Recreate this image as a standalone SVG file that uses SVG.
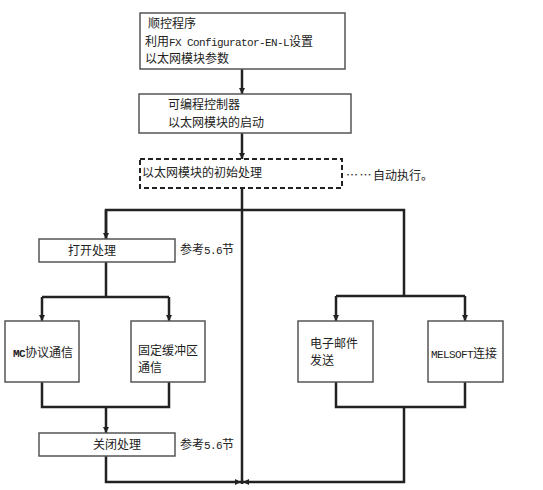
<svg xmlns="http://www.w3.org/2000/svg" width="543" height="490" viewBox="0 0 543 490">
<style>
.box{fill:#fff;stroke:#555;stroke-width:1.5}
.dash{fill:#fff;stroke:#222;stroke-width:2;stroke-dasharray:5 3}
.ln{fill:none;stroke:#222;stroke-width:2.5}
text{font-family:"Noto Sans CJK SC","Noto Sans",sans-serif;font-size:12px;fill:#222}
.m{font-family:"Liberation Mono",monospace;font-size:11px;letter-spacing:-0.6px}
</style>
<defs>
<marker id="ah" markerUnits="userSpaceOnUse" markerWidth="7" markerHeight="7" refX="6" refY="3" orient="auto">
<path d="M0,0 L6,3 L0,6 z" fill="#222"/>
</marker>
</defs>
<g id="connectors">
<path class="ln" d="M242,69 V94" marker-end="url(#ah)"/>
<path class="ln" d="M242,133 V159" marker-end="url(#ah)"/>
<path class="ln" d="M242,188 V484"/>
<path class="ln" d="M106,239 V210 H404 V296"/>
<path class="ln" d="M106,210 V239" marker-end="url(#ah)"/>
<path class="ln" d="M106,262 V297 M42,297 H169"/>
<path class="ln" d="M42,297 V321" marker-end="url(#ah)"/>
<path class="ln" d="M169,297 V321" marker-end="url(#ah)"/>
<path class="ln" d="M42,382 V407 H169 V382"/>
<path class="ln" d="M106,407 V433" marker-end="url(#ah)"/>
<path class="ln" d="M106,456 V482 H241" marker-end="url(#ah)"/>
<path class="ln" d="M336,296 H465"/>
<path class="ln" d="M336,296 V321" marker-end="url(#ah)"/>
<path class="ln" d="M465,296 V321" marker-end="url(#ah)"/>
<path class="ln" d="M336,382 V407 H465 V382"/>
<path class="ln" d="M404,407 V482 H243" marker-end="url(#ah)"/>
</g>
<g id="seq">
<rect class="box" x="140" y="13" width="205" height="56"/>
<text x="148" y="28">顺控程序</text>
<text x="145" y="46">利用<tspan class="m">FX Configurator-EN-L</tspan>设置</text>
<text x="145" y="63">以太网模块参数</text>
</g>
<g id="start">
<rect class="box" x="139" y="94" width="212" height="39"/>
<text x="168" y="109">可编程控制器</text>
<text x="168" y="127">以太网模块的启动</text>
</g>
<g id="init">
<rect class="dash" x="140" y="159" width="202" height="29"/>
<text x="142" y="177">以太网模块的初始处理</text>
</g>
<g id="auto">
<text x="346" y="180"><tspan letter-spacing="1.5px">……</tspan>自动执行。</text>
</g>
<g id="open">
<rect class="box" x="39" y="239" width="136" height="23"/>
<text x="68" y="255">打开处理</text>
<text x="180" y="254">参考<tspan class="m">5.6</tspan>节</text>
</g>
<g id="mc">
<rect class="box" x="5" y="321" width="74" height="61"/>
<text x="13" y="357"><tspan class="m" font-weight="bold">MC</tspan>协议通信</text>
</g>
<g id="fixed">
<rect class="box" x="131" y="321" width="74" height="61"/>
<text x="138" y="355">固定缓冲区</text>
<text x="138" y="372">通信</text>
</g>
<g id="close">
<rect class="box" x="39" y="433" width="136" height="23"/>
<text x="93" y="449">关闭处理</text>
<text x="180" y="449">参考<tspan class="m">5.6</tspan>节</text>
</g>
<g id="email">
<rect class="box" x="298" y="321" width="75" height="61"/>
<text x="310" y="348">电子邮件</text>
<text x="310" y="365">发送</text>
</g>
<g id="melsoft">
<rect class="box" x="428" y="321" width="75" height="61"/>
<text x="431" y="358"><tspan class="m">MELSOFT</tspan>连接</text>
</g>
</svg>
